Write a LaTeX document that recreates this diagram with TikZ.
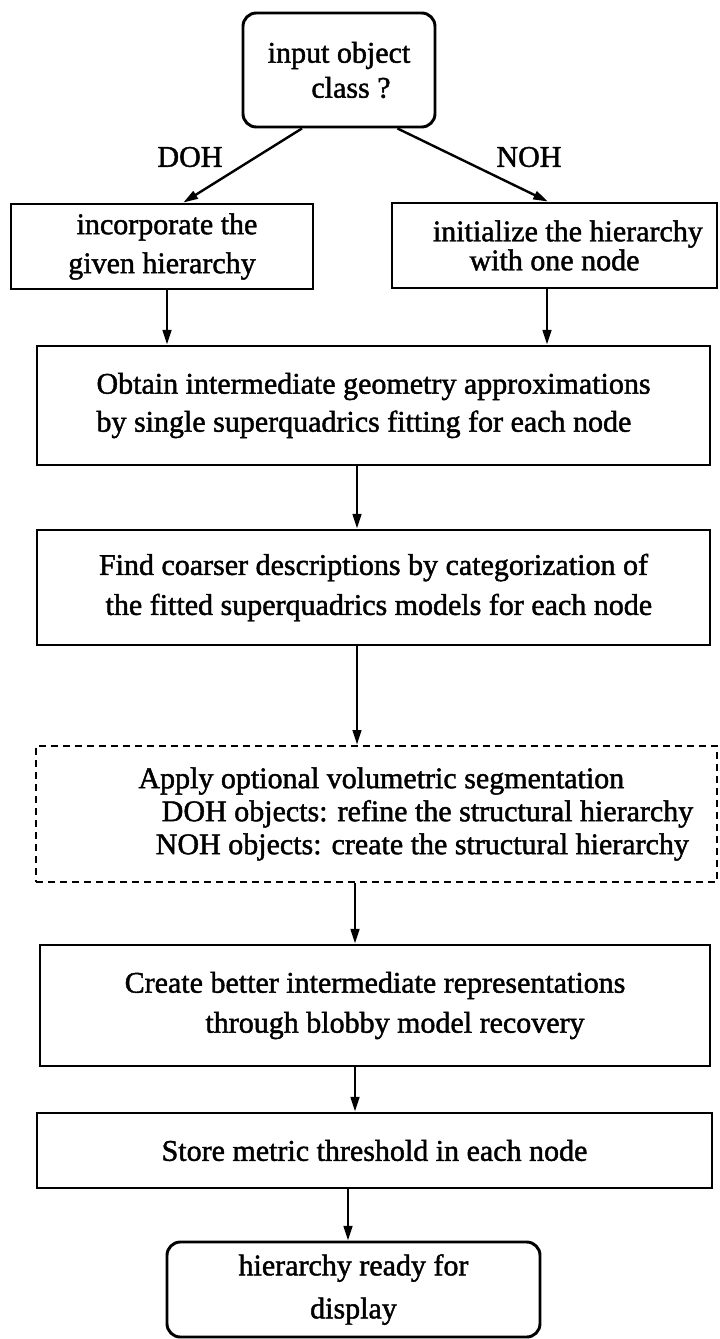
\documentclass[tikz,border=0pt]{standalone}
\usepackage{fontspec}
\setmainfont{Liberation Serif}[FakeBold=1.5]
\usetikzlibrary{arrows.meta,calc}
\begin{document}
\begin{tikzpicture}[x=0.75pt,y=-0.75pt,
  wh/.style 2 args={minimum width=#1*0.75pt, minimum height=#2*0.75pt},
  lsp/.style={font=\fontsize{22.5pt}{#1pt}\selectfont},
  stepbox/.style={draw, line width=2.2pt, align=center, inner sep=0pt},
  roundbox/.style={stepbox, rounded corners=10pt},
  dashbox/.style={draw, line width=2pt, dash pattern=on 5.5pt off 3.5pt, align=left, inner sep=0pt},
  lbl/.style={inner sep=0pt, font=\fontsize{22.5pt}{27pt}\selectfont},
  arr/.style={line width=1.8pt, -{Triangle[length=11pt,width=6.5pt]}}
]
\useasboundingbox (0,0) rectangle (719,1339);

% decision at the top
\node[roundbox, wh={192}{114}, lsp=26.25] (start) at (339,70)
  {input object\\\hspace*{18pt}class ?};

% the two branches
\node[stepbox, wh={302}{85}, lsp=29.25] (incorp) at (162,246.5)
  {\hspace*{7.5pt}incorporate the\\given hierarchy};
\node[stepbox, wh={325}{85}, lsp=21.75] (init) at (554.5,245.5)
  {\hspace*{20pt}initialize the hierarchy\\with one node};

\node[lbl] (doh) at (190,157) {DOH};
\node[lbl] (noh) at (529,157) {NOH};

% main chain
\node[stepbox, wh={673}{119}, lsp=28.5, align=left] (fit) at (373.5,405.5)
  {Obtain intermediate geometry approximations\\by single superquadrics fitting for each node};
\node[stepbox, wh={673}{115}, lsp=30] (coarse) at (373.5,587.5)
  {Find coarser descriptions by categorization of\\\hspace*{8pt}the fitted superquadrics models for each node};
\node[dashbox, wh={681}{136}, lsp=24.75] (seg) at (376.5,814)
  {\hspace*{59pt}Apply optional volumetric segmentation\\
   \hspace*{76.5pt}DOH objects: refine the structural hierarchy\\
   \hspace*{72pt}NOH objects: create the structural hierarchy};
\node[stepbox, wh={670}{121}, lsp=30] (blob) at (375,1005.5)
  {Create better intermediate representations\\\hspace*{30pt}through blobby model recovery};
\node[stepbox, wh={675}{75}, lsp=27] (thr) at (374.5,1150.5)
  {Store metric threshold in each node};
\node[roundbox, wh={373}{95}, lsp=32.25] (done) at (353.5,1289.5)
  {hierarchy ready for\\display};

% connectors
\coordinate (s1) at ($(start.south west)!0.31!(start.south east)$);
\coordinate (e1) at ($(incorp.north west)!0.57!(incorp.north east)$);
\coordinate (s2) at ($(start.south west)!0.80!(start.south east)$);
\coordinate (e2) at ($(init.north west)!0.48!(init.north east)$);
\draw[arr] (s1) -- (e1);
\draw[arr] (s2) -- (e2);

\coordinate (cl) at (167,0);
\coordinate (cr) at (547,0);
\coordinate (c1) at (357,0);
\coordinate (c2) at (355,0);
\coordinate (c3) at (348,0);
\draw[arr] (incorp.south -| cl) -- (fit.north -| cl);
\draw[arr] (init.south -| cr) -- (fit.north -| cr);
\draw[arr] (fit.south -| c1) -- (coarse.north -| c1);
\draw[arr] (coarse.south -| c1) -- (seg.north -| c1);
\draw[arr] (seg.south -| c2) -- (blob.north -| c2);
\draw[arr] (blob.south -| c2) -- (thr.north -| c2);
\draw[arr] (thr.south -| c3) -- (done.north -| c3);
\end{tikzpicture}
\end{document}
